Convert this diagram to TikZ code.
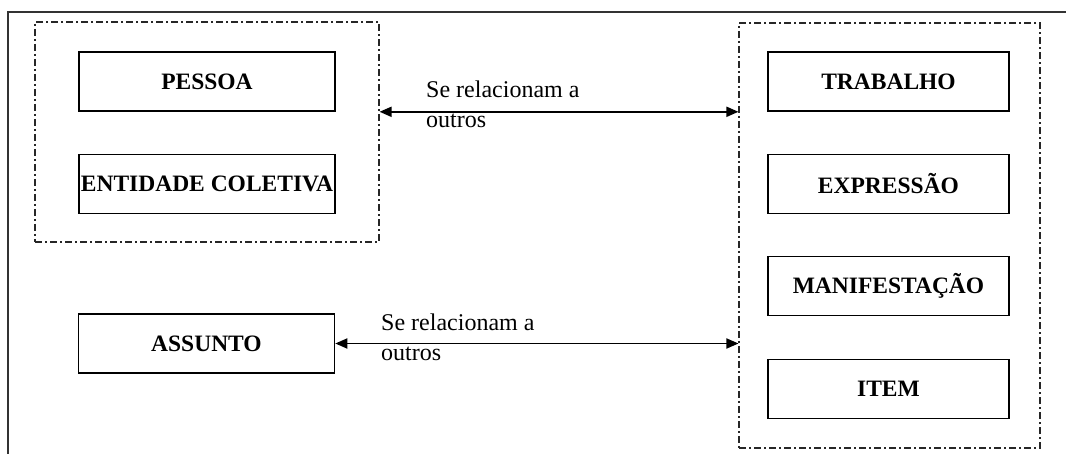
\documentclass[tikz,border=0pt]{standalone}
\usepackage{fontspec}
\setmainfont{Liberation Serif}
\usetikzlibrary{arrows.meta}

\begin{document}
\begin{tikzpicture}[x=1pt,y=-1pt]

\tikzset{EntBox/.style   = {draw, line width=1.6pt, minimum width=256pt,
                            minimum height=59pt, inner sep=0pt,
                            font=\fontsize{23.5}{27}\selectfont\bfseries},
         GroupBox/.style = {draw=black!85, line width=1.1pt, inner sep=0pt,
                            dash pattern=on 7pt off 3pt on 2pt off 3pt},
         RelText/.style  = {anchor=north west, inner sep=0pt, align=left,
                            font=\fontsize{24}{29.5}\selectfont},
         RelEdge/.style  = {line width=1.8pt,
                            {Triangle[length=12pt,width=10pt]}-{Triangle[length=12pt,width=10pt]}}}

  \useasboundingbox[fill=white] (0,0) rectangle (1066,454);

%%% outer frame (open at right and bottom)
  \draw[line width=2.2pt, black!80] (1066,12) -- (8,12) -- (8,454);

%%% left group
  \node[GroupBox, minimum width=344pt, minimum height=220pt] (Grupo1) at (207,132) {};
  \node[EntBox] (Pessoa)   at (207,81.5) {PESSOA};
  \node[EntBox] (Entidade) at (207,184)  {ENTIDADE COLETIVA};

%%% right group
  \node[GroupBox, minimum width=301pt, minimum height=425pt] (Grupo2) at (889.5,235.5) {};
  \node[EntBox, minimum width=241pt] (Trabalho) at (888.5,81.5) {TRABALHO};
  \node[EntBox, minimum width=241pt] (Expressao) at (888.5,184) {EXPRESSÃO};
  \node[EntBox, minimum width=241pt] (Manif) at (888.5,286) {MANIFESTAÇÃO};
  \node[EntBox, minimum width=241pt] (Item) at (888.5,389) {ITEM};

%%% subject
  \node[EntBox] (Assunto) at (206.5,343.5) {ASSUNTO};

%%% relations
  \draw[RelEdge] (Grupo1.east |- Pessoa.south) -- (Grupo2.west |- Pessoa.south);
  \draw[RelEdge] (Assunto.east) -- (Grupo2.west |- Assunto.east);

  \node[RelText] (Rel1) at (426,81)  {Se relacionam a\\outros};
  \node[RelText] (Rel2) at (381,314) {Se relacionam a\\outros};

\end{tikzpicture}
\end{document}
